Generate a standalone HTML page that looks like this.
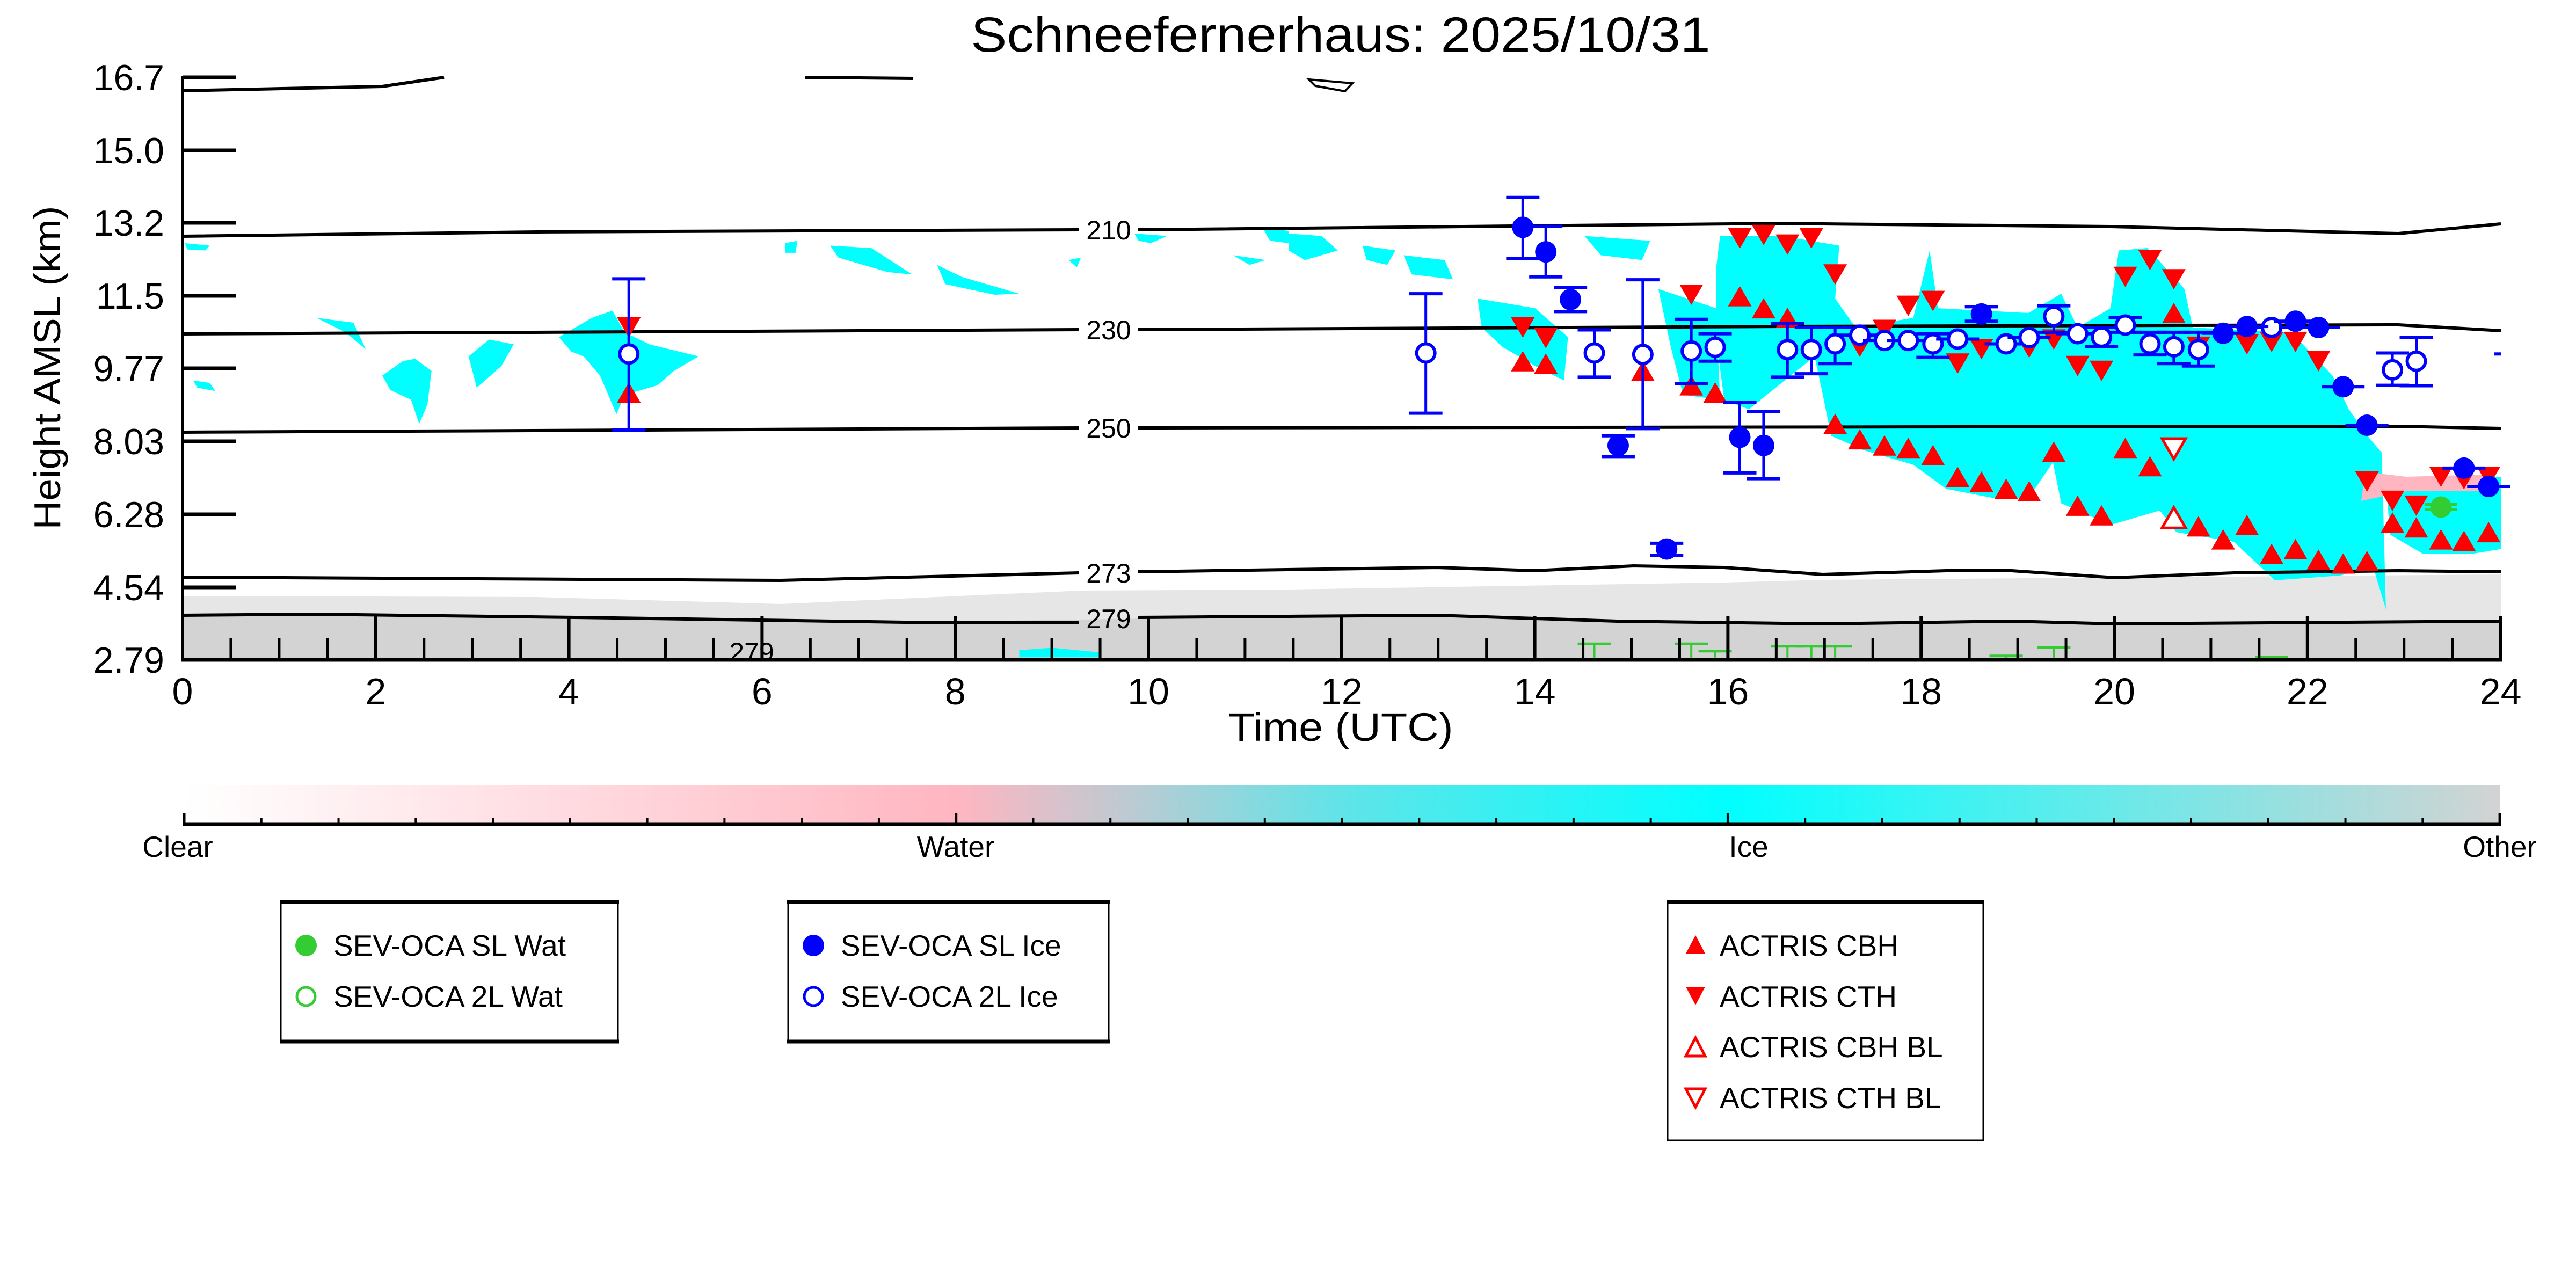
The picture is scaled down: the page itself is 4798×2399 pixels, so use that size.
<!DOCTYPE html>
<html><head><meta charset="utf-8"><style>html,body{margin:0;padding:0;background:#fff}svg{display:block}</style></head>
<body>
<svg id="s" xmlns="http://www.w3.org/2000/svg" width="4798" height="2399" viewBox="0 0 4798 2399" font-family="Liberation Sans, sans-serif">
<defs>
<linearGradient id="cb" x1="0" x2="1" y1="0" y2="0">
<stop offset="0" stop-color="#ffffff"/>
<stop offset="0.333" stop-color="#ffb6c1"/>
<stop offset="0.40" stop-color="#c4c8d0"/>
<stop offset="0.50" stop-color="#60e4e8"/>
<stop offset="0.666" stop-color="#00ffff"/>
<stop offset="1" stop-color="#d3d3d3"/>
</linearGradient>
</defs>
<text x="2497" y="96" font-size="92" text-anchor="middle" textLength="1377" lengthAdjust="spacingAndGlyphs">Schneefernerhaus: 2025/10/31</text>

<!-- gray areas -->
<polygon points="340,1110 1000,1112 1454,1125 2013,1100 2400,1098 3211,1085 3395,1080 4658,1070 4658,1229 340,1229" fill="#e6e6e6"/>
<polygon points="340,1146 582,1144 1072,1150 1684,1159 2400,1148 2676,1146 3012,1157 3395,1162 3747,1157 3939,1162 4658,1157 4658,1229 340,1229" fill="#d3d3d3"/>

<!-- cyan (zoom2 coords) -->
<g transform="translate(2400,0) scale(1.531,0.897)" fill="#00ffff">
<polygon points="525,490 600,490 670,510 665,620 690,680 760,660 780,520 790,640 900,650 940,610 960,680 1000,640 1010,520 1045,515 1090,600 1100,680 1220,690 1270,780 1290,850 1310,900 1330,940 1335,1265 1320,1180 1300,1185 1280,1195 1200,1205 1150,1125 1080,1105 1060,1060 1000,1090 940,1045 930,960 900,1035 860,1035 800,1015 760,965 700,935 660,905 650,820 640,740 560,850 530,830 520,700 520,560"/>
<polygon points="1335,1000 1475,990 1475,1140 1440,1150 1380,1150 1340,1110"/>
<polygon points="230,620 300,640 340,700 335,790 300,760 260,720 235,680"/>
<polygon points="450,600 520,640 525,830 480,820 465,720"/>
<polygon points="0,485 40,490 60,520 20,540 0,520"/>
<polygon points="90,510 130,520 120,550 95,540"/>
<polygon points="140,530 190,540 200,580 150,570"/>
<polygon points="360,490 440,500 430,540 380,530"/>
</g>
<g transform="translate(2400,0) scale(1.531,0.897)" fill="#ffb6c1">
<polygon points="1310,980 1360,990 1460,985 1460,1020 1360,1020 1305,1040"/>
</g>
<!-- cyan (zoom1 coords) -->
<g transform="scale(1.531,0.897)" fill="#00ffff">
<polygon points="680,700 720,660 745,645 760,690 790,715 850,740 820,770 800,800 760,820 750,860 730,780 710,740 695,730"/>
<polygon points="465,780 490,750 505,745 525,770 520,840 510,880 500,830 475,810"/>
<polygon points="570,740 595,705 625,715 610,760 580,805"/>
<polygon points="385,660 430,670 445,725 420,690"/>
<polygon points="235,790 255,795 262,812 240,805"/>
<polygon points="225,505 255,510 250,520 228,518"/>
<polygon points="1010,510 1060,515 1110,570 1080,565 1020,535"/>
<polygon points="1140,550 1170,575 1240,610 1210,612 1150,590"/>
<polygon points="955,505 970,500 968,525 955,525"/>
<polygon points="1380,485 1420,490 1400,505 1385,500"/>
<polygon points="1300,540 1315,535 1310,555"/>
<polygon points="1500,530 1540,540 1520,550"/>
<polygon points="1535,470 1568,480 1568,505 1545,500"/>
<polygon points="1240,1350 1280,1345 1340,1355 1340,1365 1240,1365"/>
</g>

<!-- contours -->
<g fill="none" stroke="#000" stroke-width="6">
<polyline points="340,169 712,161 827,144"/>
<polyline points="1500,144 1700,146"/>
<polygon points="2438,148 2519,155 2505,170 2450,160" stroke-width="4"/>
<polyline points="340,440 1000,432 2010,428"/><polyline points="2120,428 3227,417 3395,417 3931,422 4467,435 4658,417"/>
<polyline points="340,622 1200,618 2010,614"/><polyline points="2120,614 3318,608 4467,605 4658,616"/>
<polyline points="340,805 1200,801 2010,797"/><polyline points="2120,797 4467,794 4658,798"/>
<polyline points="340,1075 1454,1081 2010,1067"/><polyline points="2120,1065 2676,1057 2859,1063 3043,1054 3211,1057 3395,1070 3625,1063 3747,1063 3939,1076 4161,1067 4467,1063 4658,1065"/>
<polyline points="340,1146 582,1144 1072,1150 1684,1159 2010,1159"/><polyline points="2120,1150 2400,1148 2676,1146 3012,1157 3395,1162 3747,1157 3939,1162 4658,1157"/>
</g>
<g font-size="50" text-anchor="middle">
<text x="2065" y="446">210</text><text x="2065" y="632">230</text><text x="2065" y="815">250</text><text x="2065" y="1085">273</text><text x="2065" y="1170">279</text>
<text x="1400" y="1232">279</text>
</g>

<g id="mk"></g>

<!-- axes -->
<g stroke="#000">
<line x1="340" y1="141" x2="340" y2="1232" stroke-width="6"/>
<line x1="337" y1="1229" x2="4661" y2="1229" stroke-width="7"/>
<line x1="4658" y1="1150" x2="4658" y2="1229" stroke-width="5"/>
<g stroke-width="7" id="yt"></g>
<g stroke-width="5" id="xt"></g>
</g>
<g font-size="68" text-anchor="end">
<text x="306" y="168">16.7</text><text x="306" y="304">15.0</text><text x="306" y="439">13.2</text><text x="306" y="575">11.5</text><text x="306" y="710">9.77</text><text x="306" y="846">8.03</text><text x="306" y="982">6.28</text><text x="306" y="1118">4.54</text><text x="306" y="1253">2.79</text>
</g>
<g font-size="70" text-anchor="middle" id="xl"></g>
<text x="2497" y="1380" font-size="74" text-anchor="middle" textLength="419" lengthAdjust="spacingAndGlyphs">Time (UTC)</text>
<text transform="translate(112,685) rotate(-90)" font-size="70" text-anchor="middle" textLength="603" lengthAdjust="spacingAndGlyphs">Height AMSL (km)</text>

<!-- colorbar -->
<rect x="343" y="1462" width="4313" height="70" fill="url(#cb)"/>
<line x1="340" y1="1535" x2="4659" y2="1535" stroke="#000" stroke-width="7"/>
<g id="cbt" stroke="#000" stroke-width="4"></g>
<g font-size="55" text-anchor="middle">
<text x="331" y="1596">Clear</text><text x="1780" y="1596">Water</text><text x="3257" y="1596">Ice</text><text x="4656" y="1596">Other</text>
</g>

<!-- legends -->
<g fill="none" stroke="#000" stroke-width="3">
<rect x="523" y="1680" width="628" height="261"/>
<rect x="1468" y="1680" width="597" height="261"/>
<rect x="3106" y="1680" width="588" height="444"/>
</g>
<g stroke="#000" stroke-width="7">
<line x1="521" y1="1680" x2="1153" y2="1680"/><line x1="521" y1="1940" x2="1153" y2="1940"/>
<line x1="1466" y1="1680" x2="2067" y2="1680"/><line x1="1466" y1="1940" x2="2067" y2="1940"/>
<line x1="3104" y1="1680" x2="3696" y2="1680"/>
</g>
<circle cx="570" cy="1761" r="20" fill="#33cc33"/>
<circle cx="570" cy="1856" r="17" fill="#fff" stroke="#33cc33" stroke-width="5"/>
<circle cx="1515" cy="1761" r="20" fill="#0000ff"/>
<circle cx="1515" cy="1856" r="17" fill="#fff" stroke="#0000ff" stroke-width="5"/>
<polygon points="3158,1742 3176,1776 3140,1776" fill="#ff0000"/>
<polygon points="3140,1838 3176,1838 3158,1872" fill="#ff0000"/>
<polygon points="3158,1933 3176,1967 3140,1967" fill="#fff" stroke="#ff0000" stroke-width="5"/>
<polygon points="3140,2028 3176,2028 3158,2062" fill="#fff" stroke="#ff0000" stroke-width="5"/>
<g font-size="55">
<text x="621" y="1780">SEV-OCA SL Wat</text><text x="621" y="1875">SEV-OCA 2L Wat</text>
<text x="1566" y="1780">SEV-OCA SL Ice</text><text x="1566" y="1875">SEV-OCA 2L Ice</text>
<text x="3203" y="1780">ACTRIS CBH</text><text x="3203" y="1875">ACTRIS CTH</text>
<text x="3203" y="1969">ACTRIS CBH BL</text><text x="3203" y="2064">ACTRIS CTH BL</text>
</g>

<script>
(function(){
var NS="http://www.w3.org/2000/svg";
function el(p,t,a){var e=document.createElementNS(NS,t);for(var k in a)e.setAttribute(k,a[k]);p.appendChild(e);return e;}
var mk=document.getElementById("mk");
function X2(z){return 2400+z*1.531}function Y(z){return z*0.897}
function tri(x,y,up,fill,st){var w=22,h=19;var pts=up?[x,y-h,x+w,y+h,x-w,y+h]:[x-w,y-h,x+w,y-h,x,y+h];
 var a={points:pts.join(","),fill:fill};if(st){a.stroke=st;a["stroke-width"]=5;}el(mk,"polygon",a);}
function eb(x,y1,y2,c){el(mk,"line",{x1:x,y1:y1,x2:x,y2:y2,stroke:c,"stroke-width":5});
 el(mk,"line",{x1:x-31,y1:y1,x2:x+31,y2:y1,stroke:c,"stroke-width":6});el(mk,"line",{x1:x-31,y1:y2,x2:x+31,y2:y2,stroke:c,"stroke-width":6});}
// green error bits near bottom
[[372,1337],[490,1337],[519,1352],[607,1342],[636,1342],[665,1342],[873,1362],[931,1345],[1196,1365]].forEach(function(p){
 var x=X2(p[0]),y=Y(p[1]);el(mk,"line",{x1:x-31,y1:y,x2:x+31,y2:y,stroke:"#33cc33","stroke-width":5});el(mk,"line",{x1:x,y1:y,x2:x,y2:1229,stroke:"#33cc33","stroke-width":4});});
// red CTH
var cth=[[285,680],[313,702],[490,612],[549,495],[578,488],[607,508],[636,495],[665,570],[695,720],[725,685],[754,635],[784,625],[814,755],[843,725],[901,722],[931,705],[960,760],[989,770],[1018,575],[1048,540],[1077,580],[1107,720],[1166,715],[1196,710],[1225,710],[1253,750],[1312,1000],[1343,1040],[1372,1050],[1402,990],[1430,995],[1460,990]];
cth.forEach(function(p){tri(X2(p[0]),Y(p[1]),false,"#ff0000");});
tri(765*1.531,680*0.897,false,"#ff0000");
var cbh=[[285,750],[313,755],[431,770],[490,800],[519,815],[549,615],[578,640],[607,660],[665,880],[695,912],[725,925],[754,930],[784,945],[814,990],[843,1000],[873,1015],[901,1020],[931,938],[960,1050],[989,1070],[1018,930],[1048,968],[1077,650],[1107,1093],[1137,1120],[1166,1090],[1196,1150],[1225,1140],[1253,1162],[1283,1170],[1312,1165],[1343,1085],[1372,1095],[1402,1120],[1430,1123],[1460,1105]];
cbh.forEach(function(p){tri(X2(p[0]),Y(p[1]),true,"#ff0000");});
tri(765*1.531,815*0.897,true,"#ff0000");
tri(X2(1077),Y(1075),true,"#fff","#ff0000");tri(X2(1077),Y(932),false,"#fff","#ff0000");
// green filled
var gx=X2(1402),gy=Y(1053);el(mk,"line",{x1:gx-30,y1:gy-5,x2:gx+30,y2:gy-5,stroke:"#33cc33","stroke-width":5});el(mk,"line",{x1:gx-30,y1:gy+5,x2:gx+30,y2:gy+5,stroke:"#33cc33","stroke-width":5});
el(mk,"circle",{cx:gx,cy:gy,r:20,fill:"#33cc33"});
// open blue
var ob=[[167,733,610,858],[372,733,685,783],[431,736,581,890],[490,729,663,796],[519,721,693,750],[607,726,672,783],[636,726,680,776],[665,714,680,755],[695,696],[725,707],[754,707],[784,714,693,742],[814,704],[873,714],[901,701],[931,657,635,690],[960,693],[989,700,680,720],[1018,675,660,690],[1048,714,690,737],[1077,720,690,755],[1107,726,690,760],[1196,680],[1343,768,733,800],[1372,750,701,801]];
ob.forEach(function(p){var x=X2(p[0]);if(p[2])eb(x,Y(p[2]),Y(p[3]),"#0000ff");else el(mk,"line",{x1:x-40,y1:Y(p[1]),x2:x+40,y2:Y(p[1]),stroke:"#0000ff","stroke-width":6});
 el(mk,"circle",{cx:x,cy:Y(p[1]),r:17,fill:"#fff",stroke:"#0000ff","stroke-width":6});});
var x0=765*1.531;eb(x0,579*0.897,893*0.897,"#0000ff");el(mk,"circle",{cx:x0,cy:735*0.897,r:17,fill:"#fff",stroke:"#0000ff","stroke-width":6});
var fb=[[285,472,410,537],[313,523,470,575],[343,622,597,647],[401,925,905,948],[460,1140,1128,1153],[549,908,836,982],[578,925,855,994],[843,652,637,667],[1137,692],[1166,678],[1225,667],[1253,680],[1283,803],[1312,883],[1430,972],[1460,1010]];
fb.forEach(function(p){var x=X2(p[0]);if(p[2])eb(x,Y(p[2]),Y(p[3]),"#0000ff");else el(mk,"line",{x1:x-40,y1:Y(p[1]),x2:x+40,y2:Y(p[1]),stroke:"#0000ff","stroke-width":6});
 el(mk,"circle",{cx:x,cy:Y(p[1]),r:20,fill:"#0000ff"});});
el(mk,"line",{x1:X2(1467),y1:Y(735),x2:X2(1475),y2:Y(735),stroke:"#0000ff","stroke-width":6});
// axis ticks
var yt=document.getElementById("yt");
[144,280,415,551,686,822,958,1094].forEach(function(y){el(yt,"line",{x1:340,y1:y,x2:440,y2:y});});
var xt=document.getElementById("xt"),xl=document.getElementById("xl");
for(var i=0;i<=48;i++){var x=340+i*89.95;var maj=(i%4==0);el(xt,"line",{x1:x,y1:1229,x2:x,y2:maj?1148:1189,"stroke-width":maj?6:5});
 if(maj){var t=el(xl,"text",{x:x,y:1312});t.textContent=String(i/2);}}
var cbt=document.getElementById("cbt");
for(var j=0;j<=30;j++){var x=343+j*143.77;var m=(j%10==0);el(cbt,"line",{x1:x,y1:1535,x2:x,y2:m?1514:1524,"stroke-width":m?5:4});}
})();
</script>
</svg>
</body></html>
